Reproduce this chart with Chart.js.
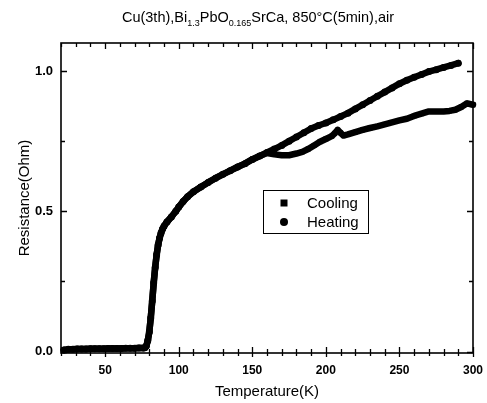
<!DOCTYPE html>
<html>
<head>
<meta charset="utf-8">
<script src="https://cdn.jsdelivr.net/npm/chart.js@4/dist/chart.umd.min.js"></script>
<style>
  html, body { margin: 0; padding: 0; background: #fff; overflow: hidden; }
  #wrap { position: relative; width: 487px; height: 403px; }
  #title { position: absolute; left: 258px; top: 9px; transform: translateX(-50%); white-space: nowrap;
           font-family: "Liberation Sans", Arial, sans-serif; font-size: 14.5px; color: #000; }
  #title sub { font-size: 9px; vertical-align: -4px; line-height: 0; }
</style>
</head>
<body>
<div id="wrap">
  <canvas id="c" width="487" height="403"></canvas>
  <div id="title">Cu(3th),Bi<sub>1.3</sub>PbO<sub>0.165</sub>SrCa, 850°C(5min),air</div>
</div>
<script>
// ---- data ----
const xTickLabels = [50, 100, 150, 200, 250, 300];
const yTickLabels = [0.0, 0.5, 1.0];

const heatingT = [22,25,28,31,34,37,40,43,46,49,52,55,58,61,64,67,70,73,76,77,78,79,80,81,82,83,84,85,86,87,88,89,90,92,95,98,100,103,106,110,115,120,125,130,135,140,145,150,155,160,165,170,175,180,185,190,195,200,205,210,215,220,225,230,235,240,245,250,255,260,265,270,275,280,285,290];
const heatingR = [0.006,0.008,0.008,0.009,0.009,0.009,0.010,0.010,0.010,0.010,0.011,0.011,0.011,0.011,0.012,0.012,0.012,0.013,0.013,0.014,0.02,0.04,0.07,0.12,0.18,0.245,0.30,0.345,0.38,0.405,0.423,0.437,0.447,0.462,0.48,0.50,0.515,0.535,0.552,0.57,0.587,0.603,0.618,0.632,0.645,0.658,0.67,0.685,0.697,0.71,0.722,0.735,0.75,0.765,0.78,0.795,0.806,0.815,0.826,0.838,0.85,0.865,0.88,0.895,0.91,0.925,0.94,0.955,0.967,0.978,0.988,0.998,1.005,1.013,1.02,1.028];

const coolingT = [300,296,292,288,284,280,275,270,265,260,255,250,245,240,235,230,225,220,215,212,210,208,206,204,200,196,192,188,184,180,175,170,165,160,155,150,145,140,135,130,125,120,115,110,106,103,100,98,95,92,90,89,88,87,86,85,84,83,82,81,80,79,78,77,76,73,70,67,64,61,58,55,52,49,46,43,40,37,34,31,28,25,22];
const coolingR = [0.88,0.885,0.872,0.862,0.858,0.856,0.856,0.856,0.848,0.84,0.83,0.824,0.817,0.81,0.803,0.797,0.79,0.782,0.774,0.77,0.78,0.79,0.778,0.768,0.758,0.748,0.735,0.722,0.712,0.706,0.70,0.70,0.703,0.708,0.697,0.685,0.67,0.658,0.645,0.632,0.618,0.603,0.587,0.57,0.552,0.535,0.515,0.50,0.48,0.462,0.447,0.437,0.423,0.405,0.38,0.345,0.30,0.245,0.18,0.12,0.07,0.04,0.02,0.014,0.013,0.013,0.012,0.012,0.012,0.011,0.011,0.011,0.011,0.010,0.010,0.010,0.010,0.009,0.009,0.009,0.008,0.008,0.006];

const seriesNames = ['Cooling', 'Heating'];

// ---- build ----
const toPts = (xs, ys) => xs.map((v, i) => ({ x: v, y: ys[i] }));
const FONT = '"Liberation Sans", Arial, sans-serif';

const frameTicks = {
  id: 'frameTicks',
  afterDatasetsDraw(chart) {
    const { ctx, chartArea: a, scales: { x, y } } = chart;
    ctx.save();
    ctx.strokeStyle = '#000';
    ctx.lineWidth = 1.6;
    ctx.strokeRect(a.left, a.top, a.right - a.left, a.bottom - a.top);
    ctx.lineWidth = 1.3;
    ctx.beginPath();
    for (let v = 20; v <= 300; v += 10) {
      const px = Math.round(x.getPixelForValue(v)) + 0.5;
      const major = xTickLabels.includes(v);
      const inL = major ? 6 : 4, outL = major ? 4 : 3;
      ctx.moveTo(px, a.bottom + outL); ctx.lineTo(px, a.bottom - inL);
      ctx.moveTo(px, a.top); ctx.lineTo(px, a.top + inL);
    }
    for (let v = 0; v <= 1.0001; v += 0.25) {
      const py = Math.round(y.getPixelForValue(v)) + 0.5;
      const major = yTickLabels.some(t => Math.abs(t - v) < 1e-6);
      const inL = major ? 6 : 4;
      ctx.moveTo(a.left, py); ctx.lineTo(a.left + inL, py);
      ctx.moveTo(a.right, py); ctx.lineTo(a.right - inL, py);
    }
    ctx.stroke();
    ctx.restore();
  },
  afterDraw(chart) {
    const { ctx } = chart;
    const bx = 263, by = 190, bw = 105, bh = 43;
    ctx.save();
    ctx.strokeStyle = '#000';
    ctx.lineWidth = 1;
    ctx.strokeRect(bx + 0.5, by + 0.5, bw, bh);
    ctx.fillStyle = '#000';
    ctx.fillRect(280.5, 199.5, 7, 7);
    ctx.beginPath(); ctx.arc(284, 222, 4, 0, Math.PI * 2); ctx.fill();
    ctx.font = '15px ' + FONT;
    ctx.textBaseline = 'middle';
    ctx.textAlign = 'left';
    ctx.fillText(seriesNames[0], 307, 204);
    ctx.fillText(seriesNames[1], 307, 223);
    ctx.restore();
  }
};

new Chart(document.getElementById('c'), {
  type: 'scatter',
  data: {
    datasets: [
      { label: seriesNames[0], data: toPts(coolingT, coolingR), pointStyle: 'rect',
        backgroundColor: '#000', borderColor: '#000', pointRadius: 3.5, pointBorderWidth: 0,
        showLine: true, borderWidth: 6.5, borderJoinStyle: 'round', borderCapStyle: 'round', clip: 6 },
      { label: seriesNames[1], data: toPts(heatingT, heatingR), pointStyle: 'circle',
        backgroundColor: '#000', borderColor: '#000', pointRadius: 3.5, pointBorderWidth: 0,
        showLine: true, borderWidth: 6.5, borderJoinStyle: 'round', borderCapStyle: 'round', clip: 6 }
    ]
  },
  options: {
    responsive: false,
    devicePixelRatio: 1,
    animation: false,
    events: [],
    layout: { padding: { top: 43, right: 14, left: 0, bottom: 0 } },
    plugins: { legend: { display: false }, tooltip: { enabled: false }, title: { display: false } },
    scales: {
      x: {
        type: 'linear', min: 20, max: 300,
        afterBuildTicks: s => { s.ticks = xTickLabels.map(v => ({ value: v })); },
        afterFit: s => { s.height = 50; },
        grid: { display: false },
        border: { display: false },
        ticks: { color: '#000', font: { family: FONT, size: 12, weight: 'bold' }, padding: 2, maxRotation: 0 },
        title: { display: true, text: 'Temperature(K)', color: '#000', font: { family: FONT, size: 15 }, padding: { top: 0, bottom: 2 } }
      },
      y: {
        type: 'linear', min: -0.005, max: 1.1,
        afterBuildTicks: s => { s.ticks = yTickLabels.map(v => ({ value: v })); },
        afterFit: s => { s.width = 61; },
        grid: { display: false },
        border: { display: false },
        ticks: { color: '#000', font: { family: FONT, size: 13, weight: 'bold' }, padding: 0, callback: v => Number(v).toFixed(1) },
        title: { display: true, text: 'Resistance(Ohm)', color: '#000', font: { family: FONT, size: 15 }, padding: { top: 16, bottom: 0 } }
      }
    }
  },
  plugins: [frameTicks]
});
</script>
</body>
</html>
